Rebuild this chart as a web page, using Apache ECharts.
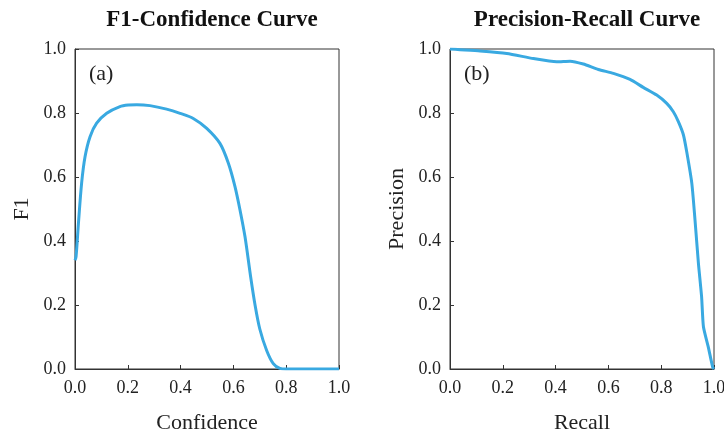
<!DOCTYPE html>
<html>
<head>
<meta charset="utf-8">
<script src="https://cdn.jsdelivr.net/npm/echarts@6/dist/echarts.min.js"></script>
<style>
html,body{margin:0;padding:0;background:#fff;}
#c{width:724px;height:431px;}
</style>
</head>
<body>
<div id="c"></div>
<script>
// F1-Confidence curve: [confidence, F1]
var f1Conf = [0.0, 0.004, 0.013, 0.025, 0.038, 0.057, 0.082, 0.12, 0.17, 0.202, 0.234, 0.284, 0.347, 0.398, 0.448, 0.499, 0.549, 0.581, 0.606, 0.625, 0.644, 0.665, 0.682, 0.70, 0.726, 0.751, 0.776, 0.80, 0.9, 1.0];
var f1Vals = [0.34, 0.351, 0.455, 0.58, 0.663, 0.726, 0.768, 0.799, 0.82, 0.825, 0.826, 0.823, 0.812, 0.799, 0.783, 0.752, 0.705, 0.643, 0.57, 0.497, 0.413, 0.29, 0.2, 0.125, 0.058, 0.017, 0.002, 0.0, 0.0, 0.0];
// Precision-Recall curve: [recall, precision]
var prRecall = [0.0, 0.038, 0.114, 0.215, 0.316, 0.404, 0.455, 0.505, 0.562, 0.619, 0.682, 0.732, 0.783, 0.821, 0.846, 0.865, 0.884, 0.897, 0.916, 0.928, 0.941, 0.953, 0.96, 0.978, 0.995, 1.0];
var prPrec = [1.0, 0.998, 0.994, 0.986, 0.97, 0.96, 0.962, 0.953, 0.936, 0.924, 0.905, 0.88, 0.856, 0.83, 0.804, 0.773, 0.732, 0.677, 0.58, 0.466, 0.33, 0.226, 0.132, 0.07, 0.006, 0.0];
var tickLabels = ['0.0', '0.2', '0.4', '0.6', '0.8', '1.0'];
var titles = ['F1-Confidence Curve', 'Precision-Recall Curve'];
var panelTags = ['(a)', '(b)'];
var xNames = ['Confidence', 'Recall'];
var yNames = ['F1', 'Precision'];

var FONT = '"Liberation Serif", "Times New Roman", serif';
var AXC = '#333';
var LINEC = '#39A9E1';

function zip(a, b) { return a.map(function (v, i) { return [v, b[i]]; }); }
function fmt(v) { return tickLabels[Math.round(v / 0.2)]; }

var grids = [
  {left: 75, top: 49, width: 264, height: 320, show: true, borderColor: AXC, borderWidth: 1, outerBoundsMode: 'none', containLabel: false},
  {left: 450, top: 49, width: 264, height: 320, show: true, borderColor: AXC, borderWidth: 1, outerBoundsMode: 'none', containLabel: false}
];

function xAxis(i) {
  return {
    gridIndex: i, type: 'value', min: 0, max: 1, interval: 0.2,
    name: xNames[i], nameLocation: 'middle', nameGap: 43,
    nameTextStyle: {fontFamily: FONT, fontSize: 22, color: '#222'},
    axisLine: {show: true, lineStyle: {color: AXC, width: 1}},
    axisTick: {show: true, inside: true, length: 4, lineStyle: {color: AXC}},
    axisLabel: {fontFamily: FONT, fontSize: 18, color: '#222', margin: 10, formatter: fmt},
    splitLine: {show: false}
  };
}
function yAxis(i) {
  return {
    gridIndex: i, type: 'value', min: 0, max: 1, interval: 0.2,
    name: yNames[i], nameLocation: 'middle', nameGap: 42,
    nameTextStyle: {fontFamily: FONT, fontSize: 22, color: '#222'},
    axisLine: {show: true, lineStyle: {color: AXC, width: 1}},
    axisTick: {show: true, inside: true, length: 4, lineStyle: {color: AXC}},
    axisLabel: {fontFamily: FONT, fontSize: 18, color: '#222', margin: 9, formatter: fmt},
    splitLine: {show: false}
  };
}

var option = {
  backgroundColor: '#fff',
  animation: false,
  title: [
    {text: titles[0], left: 207, top: 4, textAlign: 'center',
     textStyle: {fontFamily: FONT, fontSize: 23, fontWeight: 'bold', color: '#111'}},
    {text: titles[1], left: 582, top: 4, textAlign: 'center',
     textStyle: {fontFamily: FONT, fontSize: 23, fontWeight: 'bold', color: '#111'}},
    {text: panelTags[0], left: 84, top: 58,
     textStyle: {fontFamily: FONT, fontSize: 22, fontWeight: 'normal', color: '#222'}},
    {text: panelTags[1], left: 459, top: 58,
     textStyle: {fontFamily: FONT, fontSize: 22, fontWeight: 'normal', color: '#222'}}
  ],
  grid: grids,
  xAxis: [xAxis(0), xAxis(1)],
  yAxis: [yAxis(0), yAxis(1)],
  series: [
    {type: 'line', xAxisIndex: 0, yAxisIndex: 0, data: zip(f1Conf, f1Vals),
     smooth: 0.3, showSymbol: false, lineStyle: {color: LINEC, width: 3}},
    {type: 'line', xAxisIndex: 1, yAxisIndex: 1, data: zip(prRecall, prPrec),
     smooth: 0.2, showSymbol: false, lineStyle: {color: LINEC, width: 3}}
  ]
};

var chart = echarts.init(document.getElementById('c'), null, {renderer: 'canvas'});
chart.setOption(option);
</script>
</body>
</html>
